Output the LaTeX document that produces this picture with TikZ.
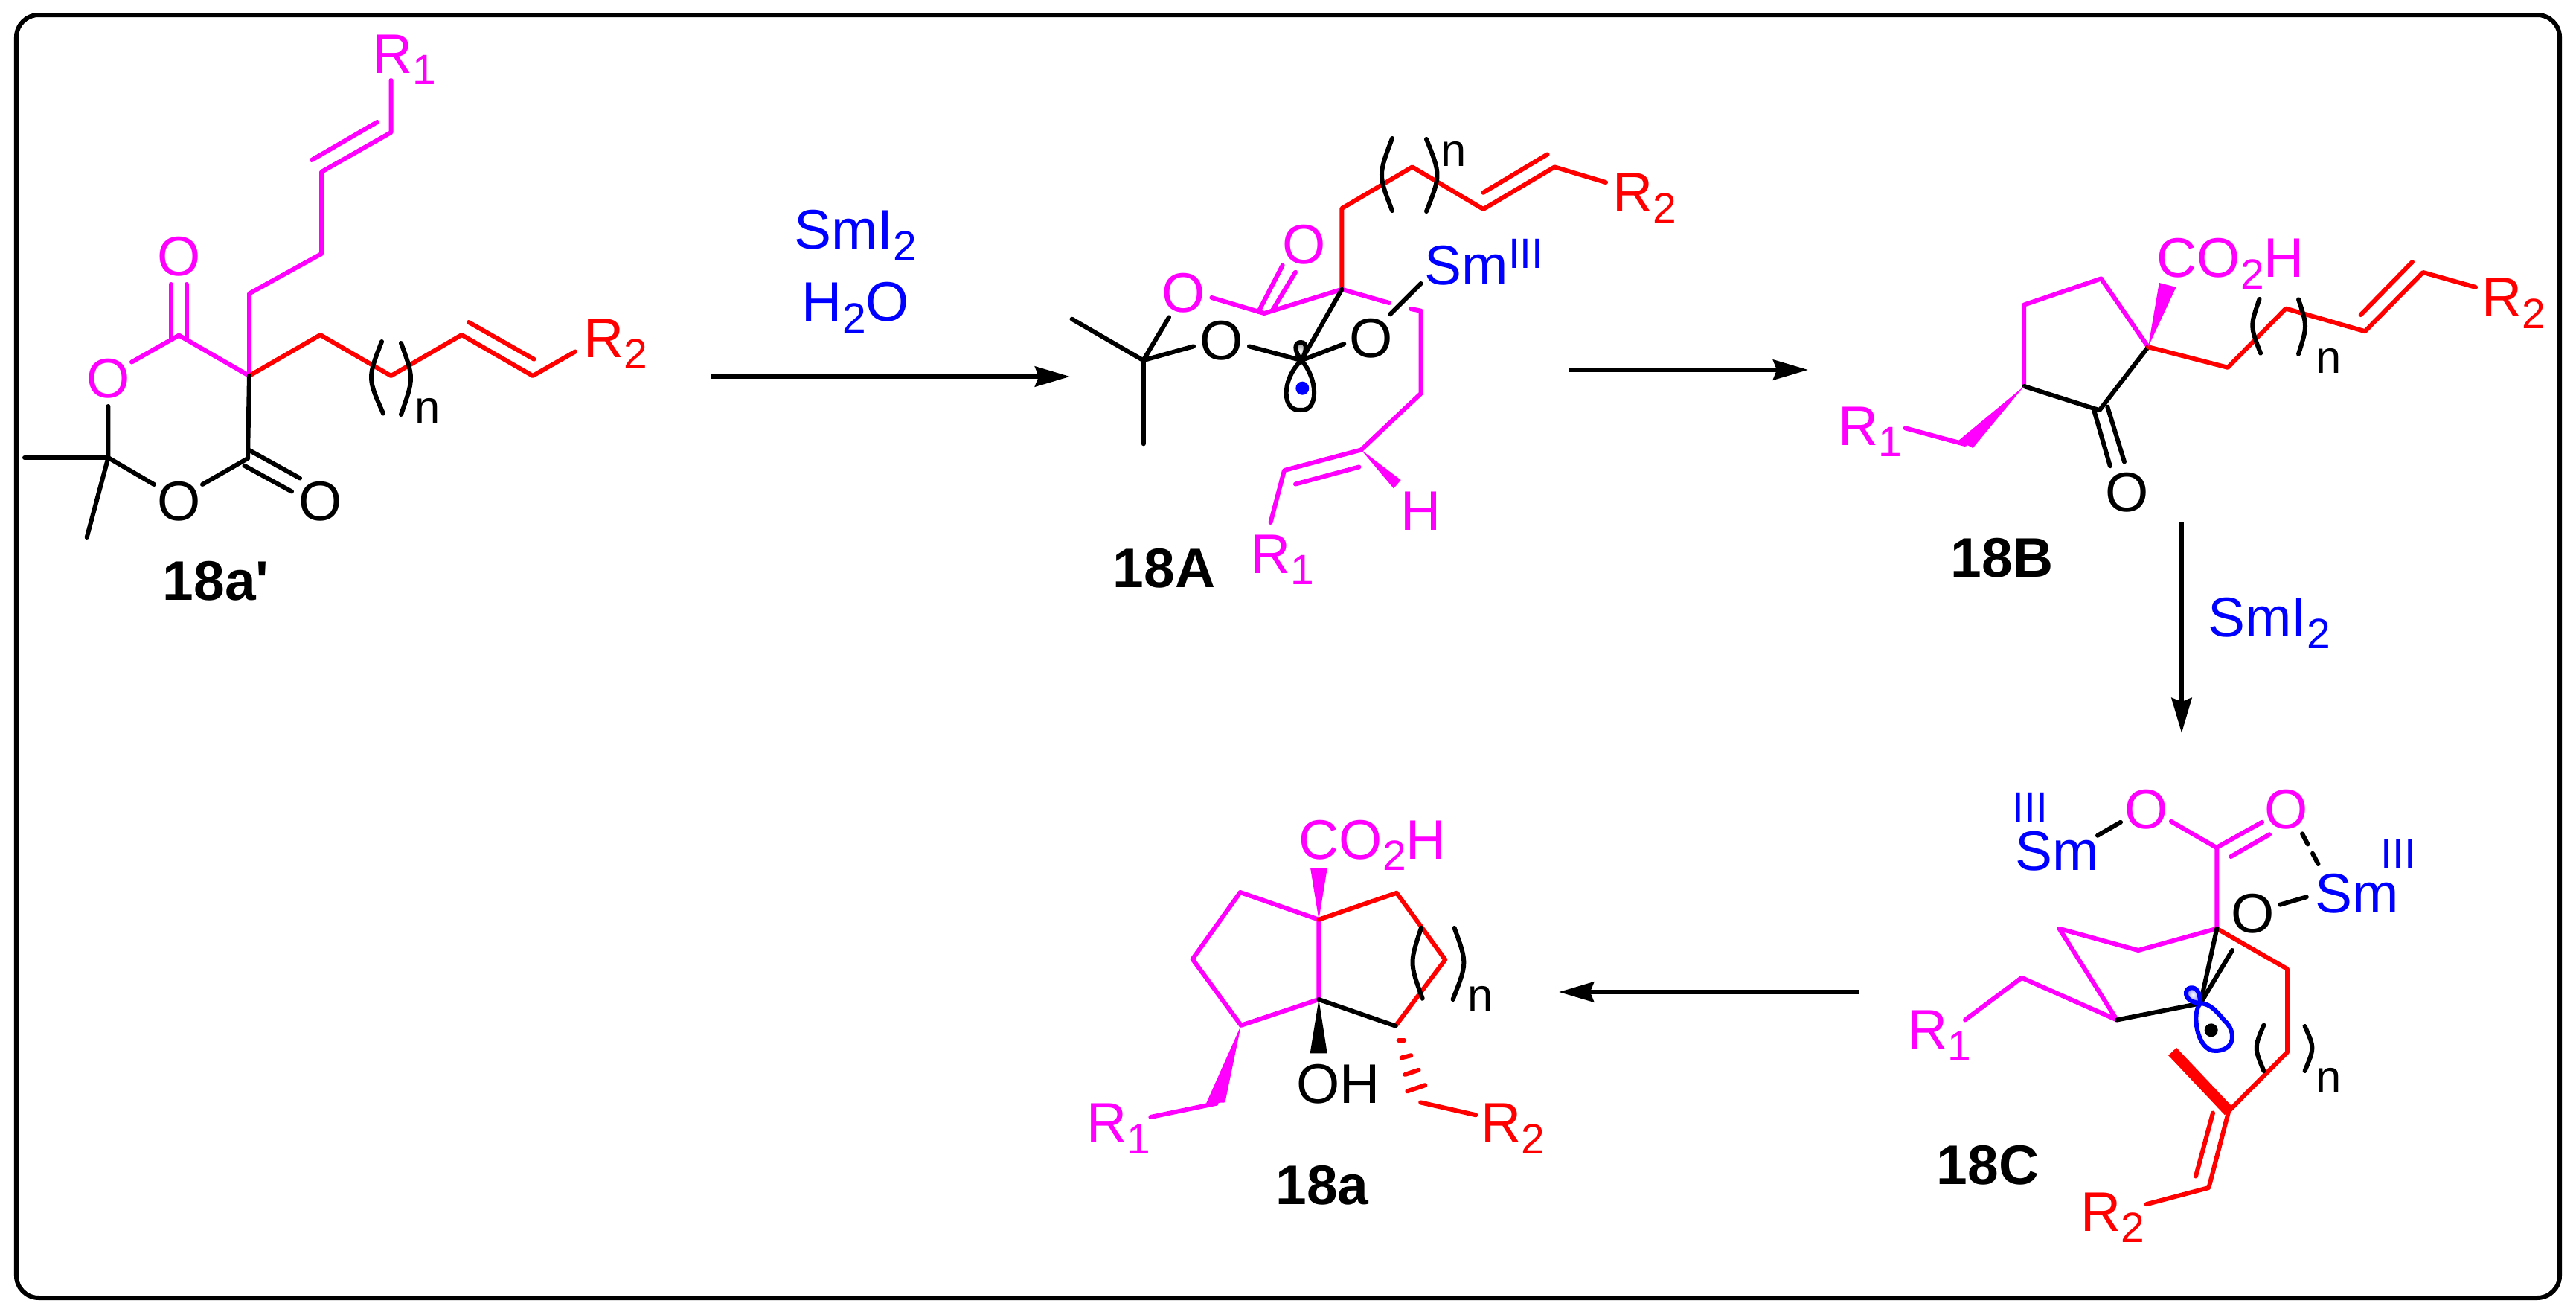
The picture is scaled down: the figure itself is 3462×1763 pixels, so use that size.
\documentclass[tikz,border=0pt]{standalone}
\usepackage{fontspec}
\setmainfont{Liberation Sans}
\usetikzlibrary{arrows.meta}

\definecolor{rmag}{RGB}{255,0,255}
\definecolor{rred}{RGB}{255,0,0}
\definecolor{rblu}{RGB}{0,0,255}

\newcommand{\rsub}[1]{\raisebox{-0.21em}{\fontsize{16.2}{18}\selectfont #1}}
\newcommand{\rsup}[1]{\raisebox{0.29em}{\fontsize{16.2}{18}\selectfont #1}}
% Sm with its charge set well above it
\newcommand{\rtop}[2]{\rlap{\hspace{#1}\raisebox{#2}{\fontsize{16.2}{18}\selectfont III}}Sm}

\tikzset{
  bond/.style={line width=0.06cm,line cap=round,line join=round},
  mg/.style={bond,color=rmag},
  rd/.style={bond,color=rred},
  bl/.style={bond,color=rblu},
  bk/.style={bond,color=black},
  atom/.style={inner sep=0pt,font=\fontsize{21.3}{24}\selectfont},
  lft/.style={atom,anchor=base west},
  small/.style={inner sep=0pt,anchor=base west,font=\fontsize{17.5}{20}\selectfont},
  tag/.style={inner sep=0pt,anchor=base west,font=\fontsize{21.3}{24}\selectfont\bfseries},
  rxn/.style={line width=0.06cm,-{Stealth[length=0.47cm,width=0.27cm,inset=0.05cm]}},
}

\begin{document}
\begin{tikzpicture}[x=0.01cm,y=-0.01cm]
\useasboundingbox (0,0) rectangle (3462,1763);

\draw[line width=0.06cm,rounded corners=0.3cm] (22,20) rectangle (3440,1744);

%18a'

\begin{scope}
\coordinate (q) at (335,505);
\coordinate (a) at (335,394.5);
\coordinate (b) at (432,341);
\coordinate (c) at (432,231);
\coordinate (d) at (525.5,178);
\coordinate (e) at (525.5,108);
\coordinate (f) at (240.5,450.6);
\coordinate (g) at (177,486.5);
\coordinate (h) at (145.4,546);
\coordinate (i) at (145.4,615);
\coordinate (j) at (207,651);
\coordinate (k) at (272,651);
\coordinate (l) at (333,616);
\coordinate (m) at (430.5,450);
\coordinate (n) at (525.5,505);
\coordinate (o) at (620.5,450);
\coordinate (p) at (716,505);
\coordinate (r) at (773,472.5);

\draw[mg] (e) -- (d) -- (c) -- (b) -- (a) -- (q);
\coordinate (d1) at (419,215);
\coordinate (d2) at (507,164);
\draw[mg] (d1) -- (d2);
\coordinate (d1) at (229.6,382);
\coordinate (d2) at (229.6,455);
\coordinate (d3) at (250.6,382);
\coordinate (d4) at (250.6,455);
\draw[mg] (d1) -- (d2);
\draw[mg] (d3) -- (d4);
\draw[mg] (g) -- (f) -- (q);
\draw[rd] (q) -- (m) -- (n) -- (o) -- (p) -- (r);
\coordinate (d1) at (630,433);
\coordinate (d2) at (717.5,482.6);
\draw[rd] (d1) -- (d2);
\draw[bk] (q) -- (l);
\draw[bk] (h) -- (i) -- (j);
\draw[bk] (k) -- (l);
\coordinate (d1) at (33,615);
\coordinate (d2) at (116.7,722);
\draw[bk] (i) -- (d1);
\draw[bk] (i) -- (d2);
\coordinate (d1) at (335,605);
\coordinate (d2) at (403,642.5);
\coordinate (d3) at (328.5,625.7);
\coordinate (d4) at (392,660.5);
\draw[bk] (d1) -- (d2);
\draw[bk] (d3) -- (d4);
\coordinate (d1) at (513,459);
\coordinate (d2) at (494,508);
\coordinate (d3) at (515,555.5);
\draw[bk] (d1) .. controls (d2) .. (d3);
\coordinate (d1) at (539,461);
\coordinate (d2) at (556.3,508);
\coordinate (d3) at (539,557);
\draw[bk] (d1) .. controls (d2) .. (d3);

\node[atom,text=rmag] (o1) at (240.5,345) {O};
\node[atom,text=rmag] (o2) at (145.4,509) {O};
\node[atom] (o3) at (240.5,673.4) {O};
\node[atom] (o4) at (430.5,673.4) {O};
\node[lft,text=rmag] (r1) at (500,98) {R\rsub{1}};
\node[lft,text=rred] (r2) at (784,480) {R\rsub{2}};
\node[small] (nn) at (557,568) {n};
\node[tag] (t) at (218,806) {18a\textquotesingle};
\end{scope}

%reagent 1

\coordinate (s1) at (956,506);
\coordinate (s2) at (1438,506);
\draw[rxn] (s1) -- (s2);
\node[atom,text=rblu] (sm1) at (1150,316) {SmI\rsub{2}};
\node[atom,text=rblu] (w1) at (1150,413) {H\rsub{2}O};

%18A

\begin{scope}
\coordinate (q) at (1803.4,388.8);
\coordinate (a) at (1803.4,280);
\coordinate (b) at (1898,224.4);
\coordinate (c) at (1993.5,281);
\coordinate (d) at (2089.3,224.4);
\coordinate (e) at (2158,245);
\coordinate (f) at (1699,421);
\coordinate (g) at (1628.4,400);
\coordinate (h) at (1867,407);
\coordinate (x) at (1749,484.2);
\coordinate (y) at (1536.5,484.2);
\coordinate (i) at (1896,415);
\coordinate (j) at (1909.6,417.7);
\coordinate (k) at (1909.6,528.8);
\coordinate (l) at (1829.3,604.5);
\coordinate (m) at (1726,632);
\coordinate (p) at (1707.6,702);

\draw[rd] (q) -- (a) -- (b) -- (c) -- (d) -- (e);
\coordinate (d1) at (1993.5,258.8);
\coordinate (d2) at (2079.6,207.4);
\draw[rd] (d1) -- (d2);
\draw[mg] (g) -- (f) -- (q) -- (h);
\coordinate (d1) at (1723.7,356.6);
\coordinate (d2) at (1691.5,418.6);
\coordinate (d3) at (1741,365.8);
\coordinate (d4) at (1710.5,416.3);
\draw[mg] (d1) -- (d2);
\draw[mg] (d3) -- (d4);
\draw[mg] (i) -- (j) -- (k) -- (l) -- (m) -- (p);
\coordinate (d1) at (1826.4,627.5);
\coordinate (d2) at (1741,650.5);
\draw[mg] (d1) -- (d2);
\coordinate (d1) at (1882.7,645);
\coordinate (d2) at (1873,656.4);
\fill[rmag] (l) -- (d1) -- (d2) -- cycle;
\coordinate (d1) at (1868.3,422.3);
\coordinate (d2) at (1909.6,381);
\draw[bk] (d1) -- (d2);
\coordinate (d1) at (1679,465.4);
\coordinate (d2) at (1806.3,462.2);
\draw[bk] (d1) -- (x) -- (d2);
\draw[bk] (q) -- (x);
\coordinate (d1) at (1604,465.4);
\coordinate (d2) at (1571,426.4);
\coordinate (d3) at (1440.6,428.7);
\coordinate (d4) at (1536.5,596.3);
\draw[bk] (y) -- (d1);
\draw[bk] (y) -- (d2);
\draw[bk] (y) -- (d3);
\draw[bk] (y) -- (d4);
\draw[bk] (x) .. controls (1722,510) and (1722,553) .. (1748,551) .. controls (1772,553) and (1772,510) .. (x);
\draw[bk,inner color=white,outer color=black!45] (x) .. controls (1738,470) and (1740,460) .. (1748,460) .. controls (1757,460) and (1757,470) .. (x);
\fill[rblu] (1750.3,521.7) circle (0.09cm);
\coordinate (d1) at (1871,186);
\coordinate (d2) at (1852.3,235);
\coordinate (d3) at (1871,283);
\draw[bk] (d1) .. controls (d2) .. (d3);
\coordinate (d1) at (1917,187);
\coordinate (d2) at (1936.3,235);
\coordinate (d3) at (1917,284);
\draw[bk] (d1) .. controls (d2) .. (d3);

\node[atom,text=rmag] (o1) at (1752.4,329) {O};
\node[atom,text=rmag] (o2) at (1591,393.3) {O};
\node[atom] (o3) at (1842.5,454.4) {O};
\node[atom] (o4) at (1641.6,457.6) {O};
\node[lft,text=rblu] (sm) at (1914,382) {Sm\rsup{III}};
\node[atom,text=rmag] (hh) at (1909.6,687) {H};
\node[lft,text=rmag] (r1) at (1680,770) {R\rsub{1}};
\node[lft,text=rred] (r2) at (2167,284) {R\rsub{2}};
\node[small] (nn) at (1936,223.5) {n};
\node[tag] (t) at (1495,789) {18A};
\end{scope}

\coordinate (s1) at (2108,497);
\coordinate (s2) at (2430,497);
\draw[rxn] (s1) -- (s2);

%18B

\begin{scope}
\coordinate (q) at (2887,466.2);
\coordinate (a) at (2823.8,374.4);
\coordinate (b) at (2720.2,409.6);
\coordinate (c) at (2720.2,519);
\coordinate (d) at (2821.6,551.2);
\coordinate (e) at (2994,493.8);
\coordinate (f) at (3072,414.6);
\coordinate (g) at (3178.4,445.2);
\coordinate (h) at (3256.4,366);
\coordinate (i) at (3327,385.9);

\draw[mg] (q) -- (a) -- (b) -- (c);
\draw[bk] (c) -- (d) -- (q);
\draw[rd] (q) -- (e) -- (f) -- (g) -- (h) -- (i);
\coordinate (d1) at (3172.7,423);
\coordinate (d2) at (3242,352);
\draw[rd] (d1) -- (d2);
\coordinate (d1) at (2901.8,380);
\coordinate (d2) at (2924.5,385.9);
\fill[rmag] (q) -- (d1) -- (d2) -- cycle;
\coordinate (d1) at (2632.3,591.8);
\coordinate (d2) at (2651.4,602);
\fill[rmag] (c) -- (d1) -- (d2) -- cycle;
\coordinate (d1) at (2560.6,575.3);
\coordinate (d2) at (2640.8,597);
\draw[mg] (d1) -- (d2);
\coordinate (d1) at (2814.5,552.3);
\coordinate (d2) at (2835.8,626.2);
\coordinate (d3) at (2832.3,546.6);
\coordinate (d4) at (2855,620.5);
\draw[bk] (d1) -- (d2);
\draw[bk] (d3) -- (d4);
\coordinate (d1) at (3036.5,402);
\coordinate (d2) at (3024,438);
\coordinate (d3) at (3038,474.6);
\draw[bk] (d1) .. controls (d2) .. (d3);
\coordinate (d1) at (3089,402.3);
\coordinate (d2) at (3101,438);
\coordinate (d3) at (3089,475.8);
\draw[bk] (d1) .. controls (d2) .. (d3);

\node[lft,text=rmag] (co) at (2898,372.5) {CO\rsub{2}H};
\node[atom] (o1) at (2858.5,662) {O};
\node[lft,text=rmag] (r1) at (2470,598) {R\rsub{1}};
\node[lft,text=rred] (r2) at (3335,425.3) {R\rsub{2}};
\node[small] (nn) at (3112,501.4) {n};
\node[tag] (t) at (2621,775) {18B};
\end{scope}

%reagent 2

\coordinate (s1) at (2932,702);
\coordinate (s2) at (2932,985);
\draw[rxn] (s1) -- (s2);
\node[atom,text=rblu] (sm2) at (3050,837) {SmI\rsub{2}};

%18C

\begin{scope}
\coordinate (a) at (2979.3,1139.2);
\coordinate (b) at (2917.9,1103.8);
\coordinate (q) at (2979.3,1247.8);
\coordinate (c) at (2873.7,1277);
\coordinate (d) at (2767.5,1247.8);
\coordinate (e) at (2845,1370.5);
\coordinate (f) at (2717,1313.8);
\coordinate (g) at (2641,1370.5);
\coordinate (x) at (2957.3,1348.3);
\coordinate (h) at (3074,1302);
\coordinate (i) at (3074,1413.9);
\coordinate (j) at (2995.3,1493);
\coordinate (k) at (2968.4,1596);
\coordinate (l) at (2884.6,1618.2);

\draw[mg] (b) -- (a) -- (q) -- (c) -- (d) -- (e) -- (f) -- (g);
\coordinate (d1) at (2981,1137.8);
\coordinate (d2) at (3040,1104.8);
\coordinate (d3) at (2998.2,1151);
\coordinate (d4) at (3050,1121.3);
\draw[mg] (d1) -- (d2);
\draw[mg] (d3) -- (d4);
\draw[rd] (q) -- (h) -- (i) -- (j) -- (k) -- (l);
\coordinate (d1) at (2974,1495.5);
\coordinate (d2) at (2951,1580.5);
\draw[rd] (d1) -- (d2);
\coordinate (d1) at (2919.6,1413);
\draw[rred,line width=0.15cm] (j) -- (d1);
\draw[bk] (e) -- (x) -- (q);
\coordinate (d1) at (3000,1277);
\draw[bk] (x) -- (d1);
\coordinate (d1) at (2819,1122.7);
\coordinate (d2) at (2850,1104.8);
\draw[bk] (d1) -- (d2);
\coordinate (d1) at (3064.2,1215.7);
\coordinate (d2) at (3099.8,1205.3);
\draw[bk] (d1) -- (d2);
\coordinate (d1) at (3094,1120.3);
\coordinate (d2) at (3117,1163.8);
\draw[bk,dash pattern=on 0.16cm off 0.14cm] (d1) -- (d2);
\draw[bl] (x) .. controls (2945,1360) and (2952,1412) .. (2977,1412) .. controls (3005,1412) and (3005,1385) .. (2990,1372) .. controls (2980,1360) and (2970,1348) .. (x);
\draw[bl,inner color=white,outer color=rblu!55] (x) .. controls (2945,1347) and (2937,1342) .. (2938,1333) .. controls (2940,1325) and (2952,1325) .. (2955,1335) .. controls (2956,1338) and (2957,1343) .. (x);
\fill[black] (2971.7,1384.3) circle (0.09cm);
\coordinate (d1) at (3042.4,1377.5);
\coordinate (d2) at (3029.5,1408);
\coordinate (d3) at (3042.4,1439);
\draw[bk] (d1) .. controls (d2) .. (d3);
\coordinate (d1) at (3097.5,1379);
\coordinate (d2) at (3110.6,1408);
\coordinate (d3) at (3097.5,1439);
\draw[bk] (d1) .. controls (d2) .. (d3);

\node[atom,text=rmag] (o1) at (2884.6,1087.3) {O};
\node[atom,text=rmag] (o2) at (3072.8,1087.3) {O};
\node[atom] (o3) at (3028,1228) {O};
\node[lft,text=rblu] (sm1) at (2708,1169) {\rtop{-0.04cm}{0.64cm}};
\node[lft,text=rblu] (sm2) at (3111,1226.5) {\rtop{0.88cm}{0.59cm}};
\node[lft,text=rmag] (r1) at (2563,1409.6) {R\rsub{1}};
\node[lft,text=rred] (r2) at (2796,1654) {R\rsub{2}};
\node[small] (nn) at (3112,1468.6) {n};
\node[tag] (t) at (2602,1591) {18C};
\end{scope}

\coordinate (s1) at (2499,1333);
\coordinate (s2) at (2095,1333);
\draw[rxn] (s1) -- (s2);

%18a

\begin{scope}
\coordinate (q) at (1772.4,1235.7);
\coordinate (x) at (1772.4,1343);
\coordinate (a) at (1666.8,1199);
\coordinate (b) at (1602.6,1288.8);
\coordinate (c) at (1667.9,1377.8);
\coordinate (d) at (1877,1199.8);
\coordinate (e) at (1942.3,1289.6);
\coordinate (f) at (1875.5,1378.6);

\draw[mg] (q) -- (a) -- (b) -- (c) -- (x) -- (q);
\draw[rd] (q) -- (d) -- (e) -- (f);
\draw[bk] (f) -- (x);
\coordinate (d1) at (1761.2,1167.1);
\coordinate (d2) at (1783.7,1167.1);
\fill[rmag] (q) -- (d1) -- (d2) -- cycle;
\coordinate (d1) at (1760.7,1415.3);
\coordinate (d2) at (1783.7,1415.3);
\fill[black] (x) -- (d1) -- (d2) -- cycle;
\coordinate (d1) at (1621,1482.7);
\coordinate (d2) at (1646.4,1481.4);
\fill[rmag] (c) -- (d1) -- (d2) -- cycle;
\coordinate (d1) at (1546.4,1501);
\coordinate (d2) at (1634.7,1482.7);
\draw[mg] (d1) -- (d2);
\coordinate (d1) at (1879.6,1398);
\coordinate (d2) at (1887.2,1398);
\draw[rd] (d1) -- (d2);
\coordinate (d1) at (1883.7,1421.4);
\coordinate (d2) at (1896.4,1418.2);
\draw[rd] (d1) -- (d2);
\coordinate (d1) at (1888.3,1443.9);
\coordinate (d2) at (1906.6,1437.8);
\draw[rd] (d1) -- (d2);
\coordinate (d1) at (1891.3,1466.3);
\coordinate (d2) at (1915.3,1458.2);
\draw[rd] (d1) -- (d2);
\coordinate (d1) at (1909.2,1481.4);
\coordinate (d2) at (1983.2,1498.2);
\draw[rd] (d1) -- (d2);
\coordinate (d1) at (1910,1246.7);
\coordinate (d2) at (1894.4,1294);
\coordinate (d3) at (1911.7,1341.8);
\draw[bk] (d1) .. controls (d2) .. (d3);
\coordinate (d1) at (1954.6,1247);
\coordinate (d2) at (1971.9,1294);
\coordinate (d3) at (1952.6,1343);
\draw[bk] (d1) .. controls (d2) .. (d3);

\node[lft,text=rmag] (co) at (1745,1154) {CO\rsub{2}H};
\node[lft] (oh) at (1742,1482.7) {OH};
\node[lft,text=rmag] (r1) at (1460,1534.5) {R\rsub{1}};
\node[lft,text=rred] (r2) at (1990,1534.5) {R\rsub{2}};
\node[small] (nn) at (1972,1358) {n};
\node[tag] (t) at (1713.8,1618) {18a};
\end{scope}

\end{tikzpicture}
\end{document}
